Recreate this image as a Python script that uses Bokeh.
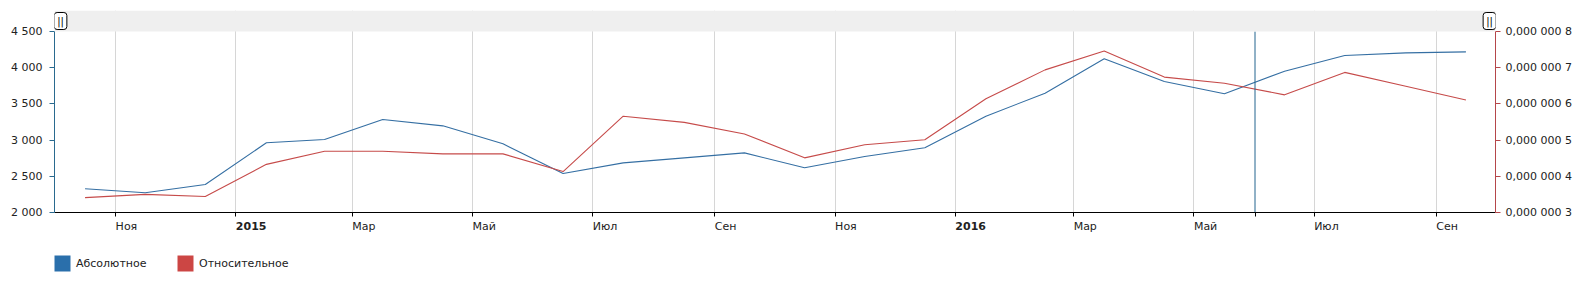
import datetime as dt
from bokeh.plotting import figure
from bokeh.layouts import column
from bokeh.models import (Range1d, LinearAxis, DatetimeAxis, FixedTicker, Legend,
                          LegendItem, BoxAnnotation, Label)
from bokeh.embed import file_html
from bokeh.resources import INLINE

# ---------------- data ----------------
months = ["2014-10", "2014-11", "2014-12", "2015-01", "2015-02", "2015-03",
          "2015-04", "2015-05", "2015-06", "2015-07", "2015-08", "2015-09",
          "2015-10", "2015-11", "2015-12", "2016-01", "2016-02", "2016-03",
          "2016-04", "2016-05", "2016-06", "2016-07", "2016-08", "2016-09"]
absolute = [2327, 2272, 2387, 2963, 3008, 3284, 3197, 2949, 2539, 2686, 2755, 2824,
            2617, 2773, 2894, 3330, 3648, 4123, 3809, 3640, 3952, 4168, 4205, 4219]
relative = [3.41e-7, 3.50e-7, 3.44e-7, 4.33e-7, 4.69e-7, 4.69e-7, 4.62e-7, 4.62e-7,
            4.13e-7, 5.66e-7, 5.49e-7, 5.17e-7, 4.51e-7, 4.87e-7, 5.01e-7, 6.14e-7,
            6.94e-7, 7.46e-7, 6.74e-7, 6.57e-7, 6.25e-7, 6.87e-7, 6.49e-7, 6.11e-7]
series_names = ["Абсолютное", "Относительное"]

left_ticks = [2000, 2500, 3000, 3500, 4000, 4500]
left_tick_labels = ["2 000", "2 500", "3 000", "3 500", "4 000", "4 500"]
right_ticks = [3e-7, 4e-7, 5e-7, 6e-7, 7e-7, 8e-7]
right_tick_labels = ["0,000 000 3", "0,000 000 4", "0,000 000 5",
                     "0,000 000 6", "0,000 000 7", "0,000 000 8"]

x_tick_dates = ["2014-11-01", "2015-01-01", "2015-03-01", "2015-05-01", "2015-07-01",
                "2015-09-01", "2015-11-01", "2016-01-01", "2016-03-01", "2016-05-01",
                "2016-07-01", "2016-09-01"]
x_tick_labels = ["Ноя", "2015", "Мар", "Май", "Июл", "Сен",
                 "Ноя", "2016", "Мар", "Май", "Июл", "Сен"]
year_labels = ["2015", "2016"]
cursor_date = "2016-06-01"
x_start, x_end = "2014-10-01", "2016-10-01"

# ---------------- helpers ----------------
EPOCH = dt.datetime(1970, 1, 1)


def parse(s):
    return dt.datetime.strptime(s, "%Y-%m-%d")


def ms(d):
    return (d - EPOCH).total_seconds() * 1000.0


def mid_month(s):
    y, m = map(int, s.split("-"))
    d0 = dt.datetime(y, m, 1)
    d1 = dt.datetime(y + (m == 12), m % 12 + 1, 1)
    return d0 + (d1 - d0) / 2


xs = [mid_month(m) for m in months]

BLUE = "#356fa3"
RED = "#c64b4a"
BLUE_SW = "#2a6fab"
RED_SW = "#cc4644"
FONT = "DejaVu Sans"
TXT = "#222222"
LEFT_ALIGN_ANGLE = -0.0001  # tiny negative angle -> labels start at the tick

# frame: 202 px high, of which the top 21 px are the scrollbar strip
frame_h, strip_h = 202, 21
plot_h = frame_h - strip_h
left_end = left_ticks[0] + (left_ticks[-1] - left_ticks[0]) * frame_h / plot_h
right_end = right_ticks[0] + (right_ticks[-1] - right_ticks[0]) * frame_h / plot_h

p = figure(width=1581, height=248, output_backend="svg", toolbar_location=None,
           x_axis_type="datetime",
           x_range=Range1d(parse(x_start), parse(x_end)),
           y_range=Range1d(left_ticks[0], left_end),
           min_border_left=54, min_border_right=86, min_border_top=10,
           min_border_bottom=36)
p.outline_line_color = None
p.background_fill_color = "white"
p.extra_y_ranges = {"rel": Range1d(right_ticks[0], right_end)}

# grid
grid_ms = [ms(parse(d)) for d in x_tick_dates]
p.xgrid.ticker = FixedTicker(ticks=grid_ms)
p.xgrid.grid_line_color = "#d6d6d6"
p.ygrid.visible = False

# x axis (months)
tick_ms = sorted(grid_ms + [ms(parse(cursor_date))])
overrides = {}
for d, lab in zip(x_tick_dates, x_tick_labels):
    overrides[ms(parse(d))] = "" if lab in year_labels else lab
overrides[ms(parse(cursor_date))] = ""
xa = p.xaxis[0]
xa.ticker = FixedTicker(ticks=tick_ms)
xa.major_label_overrides = overrides
xa.axis_line_color = "#000000"
xa.major_tick_line_color = "#000000"
xa.major_tick_in = 0
xa.major_tick_out = 4
xa.minor_tick_line_color = None
xa.major_label_standoff = 10
xa.major_label_orientation = LEFT_ALIGN_ANGLE
xa.major_label_text_font = FONT
xa.major_label_text_font_size = "11px"
xa.major_label_text_color = TXT

# x axis (bold year labels), pulled up onto the same row as the month labels
year_dates = [d for d, lab in zip(x_tick_dates, x_tick_labels) if lab in year_labels]
year_ms = [ms(parse(d)) for d in year_dates]
ya2 = DatetimeAxis(ticker=FixedTicker(ticks=year_ms),
                   major_label_overrides=dict(zip(year_ms, year_labels)))
ya2.axis_line_color = None
ya2.major_tick_line_color = None
ya2.minor_tick_line_color = None
ya2.major_tick_in = 0
ya2.major_tick_out = 0
ya2.major_label_standoff = -17
ya2.major_label_orientation = LEFT_ALIGN_ANGLE
ya2.major_label_text_font = FONT
ya2.major_label_text_font_size = "11px"
ya2.major_label_text_font_style = "bold"
ya2.major_label_text_color = TXT
p.add_layout(ya2, "below")

# left axis
ya = p.yaxis[0]
ya.ticker = FixedTicker(ticks=left_ticks)
ya.major_label_overrides = dict(zip(left_ticks, left_tick_labels))
ya.bounds = (left_ticks[0], left_ticks[-1])
ya.axis_line_color = "#2a6a8f"
ya.major_tick_line_color = "#2a6a8f"
ya.major_tick_in = 0
ya.major_tick_out = 5
ya.minor_tick_line_color = None
ya.major_label_standoff = 7
ya.major_label_text_font = FONT
ya.major_label_text_font_size = "11px"
ya.major_label_text_color = TXT

# right axis
ra = LinearAxis(y_range_name="rel", ticker=FixedTicker(ticks=right_ticks))
ra.major_label_overrides = dict(zip(right_ticks, right_tick_labels))
ra.bounds = (right_ticks[0], right_ticks[-1])
ra.axis_line_color = "#b5464a"
ra.major_tick_line_color = "#b5464a"
ra.major_tick_in = 0
ra.major_tick_out = 5
ra.minor_tick_line_color = None
ra.major_label_standoff = 5
ra.major_label_text_font = FONT
ra.major_label_text_font_size = "11px"
ra.major_label_text_color = TXT
p.add_layout(ra, "right")

# series
p.line(xs, absolute, line_color=BLUE, line_width=1.1)
p.line(xs, relative, line_color=RED, line_width=1.1, y_range_name="rel")

# cursor line
cx = parse(cursor_date)
p.segment(x0=[cx], y0=[left_ticks[0]], x1=[cx], y1=[left_ticks[-1]],
          line_color="#22648f", line_width=1)

# scrollbar strip
p.add_layout(BoxAnnotation(bottom=left_ticks[-1], fill_color="#efefef", fill_alpha=1,
                           line_color=None))
band_mid = left_ticks[-1] + (left_end - left_ticks[-1]) / 2
for xd, off in ((x_start, 6), (x_end, -6)):
    p.add_layout(Label(x=parse(xd), y=band_mid, text="||", x_offset=off,
                       text_align="center", text_baseline="middle",
                       text_font=FONT, text_font_size="10px",
                       text_color="#000000", background_fill_color="white",
                       border_line_color="#000000", border_line_width=1,
                       border_radius=3, padding=(3, 3)))

# legend figure (swatch renderers hold one zero-size box each)
lg = figure(width=1581, height=36, output_backend="svg", toolbar_location=None,
            x_axis_location=None, y_axis_location=None,
            x_range=Range1d(0, 1), y_range=Range1d(0, 1),
            min_border=0, min_border_left=54, min_border_right=86)
lg.outline_line_color = None
lg.grid.visible = False
sw_blue = lg.quad(left=[0], right=[0], top=[0], bottom=[0], fill_color=BLUE_SW,
                  line_color=None)
sw_red = lg.quad(left=[0], right=[0], top=[0], bottom=[0], fill_color=RED_SW,
                 line_color=None)
legend = Legend(items=[LegendItem(label=series_names[0], renderers=[sw_blue]),
                       LegendItem(label=series_names[1], renderers=[sw_red])],
                orientation="horizontal", location=(-2, 11),
                glyph_width=20, glyph_height=20, label_standoff=4,
                label_width=99, spacing=0, padding=0, margin=0,
                label_text_font=FONT, label_text_font_size="11px",
                label_text_color=TXT, background_fill_alpha=0,
                border_line_color=None)
lg.add_layout(legend, "center")

open("out.html", "w").write(file_html(column(p, lg, spacing=0), INLINE))
